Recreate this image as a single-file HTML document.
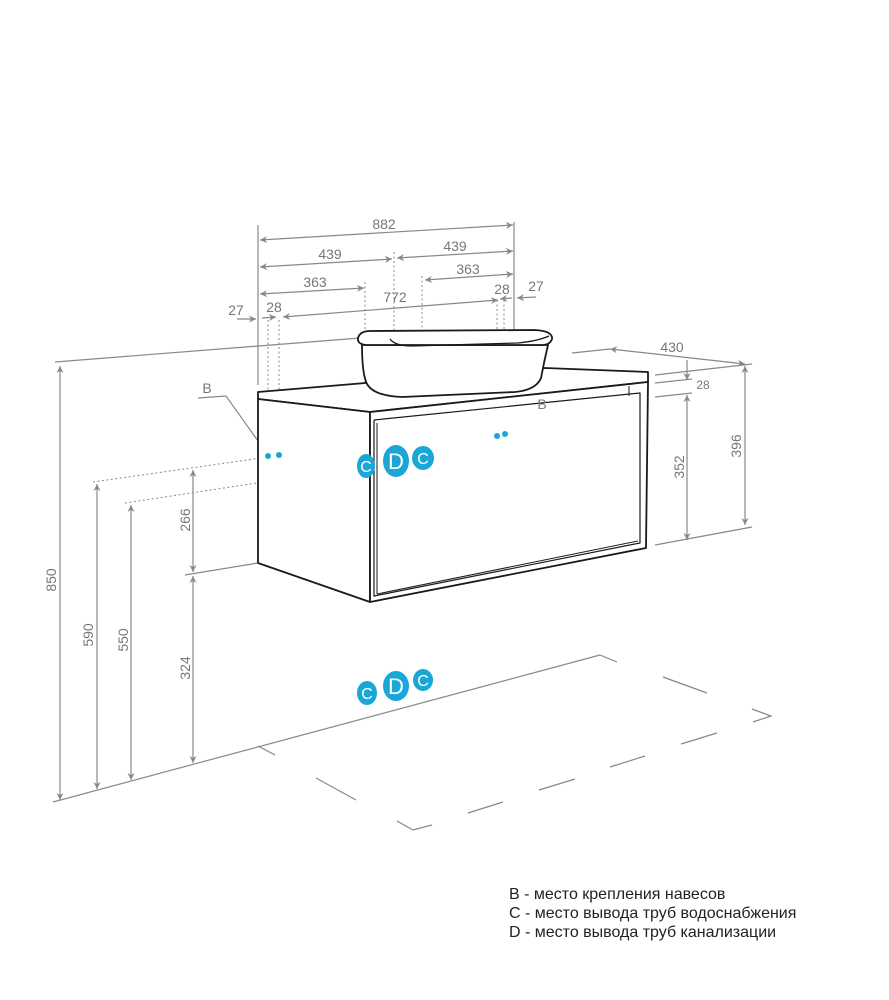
<!DOCTYPE html>
<html><head><meta charset="utf-8"><style>
html,body{margin:0;padding:0;background:#fff;}
svg{display:block;}
text{font-family:"Liberation Sans",sans-serif;fill:#777;font-size:14px;}
.legend{font-family:"Liberation Sans",sans-serif;font-size:16px;fill:#222;}
</style></head><body>
<svg width="889" height="1000" viewBox="0 0 889 1000" xmlns="http://www.w3.org/2000/svg">
<defs>
<marker id="a" viewBox="0 0 10 10" refX="10" refY="5" markerWidth="12" markerHeight="7" orient="auto-start-reverse" markerUnits="userSpaceOnUse"><path d="M0,0 L10,5 L0,10 L3,5z" fill="#888"/></marker>
</defs>
<g stroke="#888" stroke-width="1.2" fill="none">
<line x1="55" y1="362" x2="360" y2="338"/>
<line x1="572" y1="353" x2="610" y2="349"/>
<line x1="53" y1="802" x2="600" y2="655"/>
<line x1="600" y1="655" x2="617" y2="662"/>
<line x1="663" y1="677" x2="707" y2="693"/>
<polyline points="752,709 771,716 753,722"/>
<line x1="258" y1="746" x2="275" y2="755"/>
<line x1="316" y1="778" x2="356" y2="800"/>
<polyline points="397,821 413,830 432,825"/>
<line x1="468" y1="813" x2="503" y2="802"/>
<line x1="539" y1="790" x2="575" y2="779"/>
<line x1="610" y1="767" x2="645" y2="756"/>
<line x1="681" y1="744" x2="717" y2="733"/>
<line x1="258" y1="225" x2="258" y2="385"/>
<line x1="514" y1="222" x2="514" y2="330"/>
<line x1="260" y1="240" x2="513" y2="225" marker-start="url(#a)" marker-end="url(#a)"/>
<line x1="260" y1="267" x2="392" y2="259" marker-start="url(#a)" marker-end="url(#a)"/>
<line x1="397" y1="258" x2="513" y2="251" marker-start="url(#a)" marker-end="url(#a)"/>
<line x1="260" y1="294" x2="364" y2="288" marker-start="url(#a)" marker-end="url(#a)"/>
<line x1="425" y1="280" x2="513" y2="274" marker-start="url(#a)" marker-end="url(#a)"/>
<line x1="283" y1="317" x2="498" y2="300" marker-start="url(#a)" marker-end="url(#a)"/>
<line x1="237" y1="319" x2="256" y2="319" marker-end="url(#a)"/>
<line x1="262" y1="318" x2="276" y2="317" marker-end="url(#a)"/>
<line x1="500" y1="299" x2="512" y2="298" marker-start="url(#a)"/>
<line x1="536" y1="297" x2="517" y2="298" marker-end="url(#a)"/>
<line x1="610" y1="349" x2="745" y2="364" marker-start="url(#a)" marker-end="url(#a)"/>
<line x1="655" y1="375" x2="752" y2="364"/>
<line x1="655" y1="383" x2="692" y2="379"/>
<line x1="655" y1="397" x2="692" y2="393"/>
<line x1="687" y1="360" x2="687" y2="380" marker-end="url(#a)"/>
<line x1="687" y1="395" x2="687" y2="540" marker-start="url(#a)" marker-end="url(#a)"/>
<line x1="745" y1="366" x2="745" y2="525" marker-start="url(#a)" marker-end="url(#a)"/>
<line x1="655" y1="545" x2="752" y2="527"/>
<line x1="60" y1="366" x2="60" y2="800" marker-start="url(#a)" marker-end="url(#a)"/>
<line x1="97" y1="484" x2="97" y2="789" marker-start="url(#a)" marker-end="url(#a)"/>
<line x1="131" y1="505" x2="131" y2="780" marker-start="url(#a)" marker-end="url(#a)"/>
<line x1="193" y1="470" x2="193" y2="572" marker-start="url(#a)" marker-end="url(#a)"/>
<line x1="193" y1="576" x2="193" y2="763" marker-start="url(#a)" marker-end="url(#a)"/>
<line x1="185" y1="575" x2="258" y2="563"/>
<polyline points="198,398 226,396 268,455"/>
<polyline points="505,435 527,413 560,410"/>
</g>
<g stroke="#888" stroke-width="1" stroke-dasharray="2,2.5" fill="none">
<line x1="93" y1="482" x2="268" y2="457"/>
<line x1="125" y1="503" x2="316" y2="474"/>
<line x1="268" y1="320" x2="268" y2="455"/>
<line x1="279" y1="320" x2="279" y2="455"/>
<line x1="365" y1="282" x2="365" y2="460"/>
<line x1="394" y1="252" x2="394" y2="450"/>
<line x1="422" y1="276" x2="422" y2="450"/>
<line x1="497" y1="300" x2="497" y2="435"/>
<line x1="504" y1="300" x2="504" y2="435"/>
</g>
<g stroke="#1a1a1a" stroke-width="1.8" fill="#fff" stroke-linejoin="round">
<polygon points="258,392 545,368 648,372 648,382 370,412 258,399"/>
<polygon points="258,399 370,412 370,602 258,563"/>
<polygon points="370,412 648,382 646,548 370,602"/>
<polyline points="374,420 640,393 640,543 374,596 374,420" fill="none" stroke-width="1.2"/>
<line x1="377" y1="423" x2="377" y2="594" stroke-width="1"/>
<line x1="377" y1="594" x2="638" y2="541" stroke-width="1"/>
<line x1="629" y1="386" x2="629" y2="396" stroke-width="1"/>
<path d="M362,345 Q362,374 367,384 Q374,396 402,397 L515,392 Q536,390 541,378 Q544,362 548,345 Z"/>
<path d="M370,331 L535,330 Q553,331 552,339 Q550,345 542,345 L366,345 Q357,344 358,338 Q360,331 370,331Z"/>
<path d="M390,339 Q395,346 412,346 L518,343 Q538,341 549,336" fill="none" stroke-width="1.3"/>
</g>
<g fill="#1aa6d6">
<circle cx="268" cy="456" r="3"/><circle cx="279" cy="455" r="3"/>
<circle cx="497" cy="436" r="3"/><circle cx="505" cy="434" r="3"/>
<ellipse cx="366" cy="466" rx="9" ry="12"/>
<ellipse cx="396" cy="461" rx="13" ry="16"/>
<ellipse cx="423" cy="458" rx="11" ry="12"/>
<ellipse cx="367" cy="693" rx="10" ry="12"/>
<ellipse cx="396" cy="686" rx="13" ry="15"/>
<ellipse cx="423" cy="680" rx="10" ry="11"/>
</g>
<g text-anchor="middle">
<text x="366" y="472" style="fill:#fff;font-size:16px">C</text>
<text x="396" y="469" style="fill:#fff;font-size:22px">D</text>
<text x="423" y="464" style="fill:#fff;font-size:16px">C</text>
<text x="367" y="699" style="fill:#fff;font-size:16px">C</text>
<text x="396" y="694" style="fill:#fff;font-size:22px">D</text>
<text x="423" y="686" style="fill:#fff;font-size:16px">C</text>
</g>
<text x="384" y="229" text-anchor="middle">882</text>
<text x="330" y="259" text-anchor="middle">439</text>
<text x="455" y="251" text-anchor="middle">439</text>
<text x="315" y="287" text-anchor="middle">363</text>
<text x="468" y="274" text-anchor="middle">363</text>
<text x="395" y="302" text-anchor="middle">772</text>
<text x="236" y="315" text-anchor="middle">27</text>
<text x="274" y="312" text-anchor="middle">28</text>
<text x="502" y="294" text-anchor="middle">28</text>
<text x="536" y="291" text-anchor="middle">27</text>
<text x="207" y="393" text-anchor="middle">B</text>
<text x="542" y="409" text-anchor="middle">B</text>
<text x="672" y="352" text-anchor="middle">430</text>
<text x="703" y="389" text-anchor="middle" style="font-size:12px">28</text>
<text transform="translate(684,467) rotate(-90)" text-anchor="middle">352</text>
<text transform="translate(741,446) rotate(-90)" text-anchor="middle">396</text>
<text transform="translate(56,580) rotate(-90)" text-anchor="middle">850</text>
<text transform="translate(93,635) rotate(-90)" text-anchor="middle">590</text>
<text transform="translate(128,640) rotate(-90)" text-anchor="middle">550</text>
<text transform="translate(190,520) rotate(-90)" text-anchor="middle">266</text>
<text transform="translate(190,668) rotate(-90)" text-anchor="middle">324</text>
<text class="legend" x="509" y="899">B - место крепления навесов</text>
<text class="legend" x="509" y="918">C - место вывода труб водоснабжения</text>
<text class="legend" x="509" y="937">D - место вывода труб канализации</text>
</svg>
</body></html>
